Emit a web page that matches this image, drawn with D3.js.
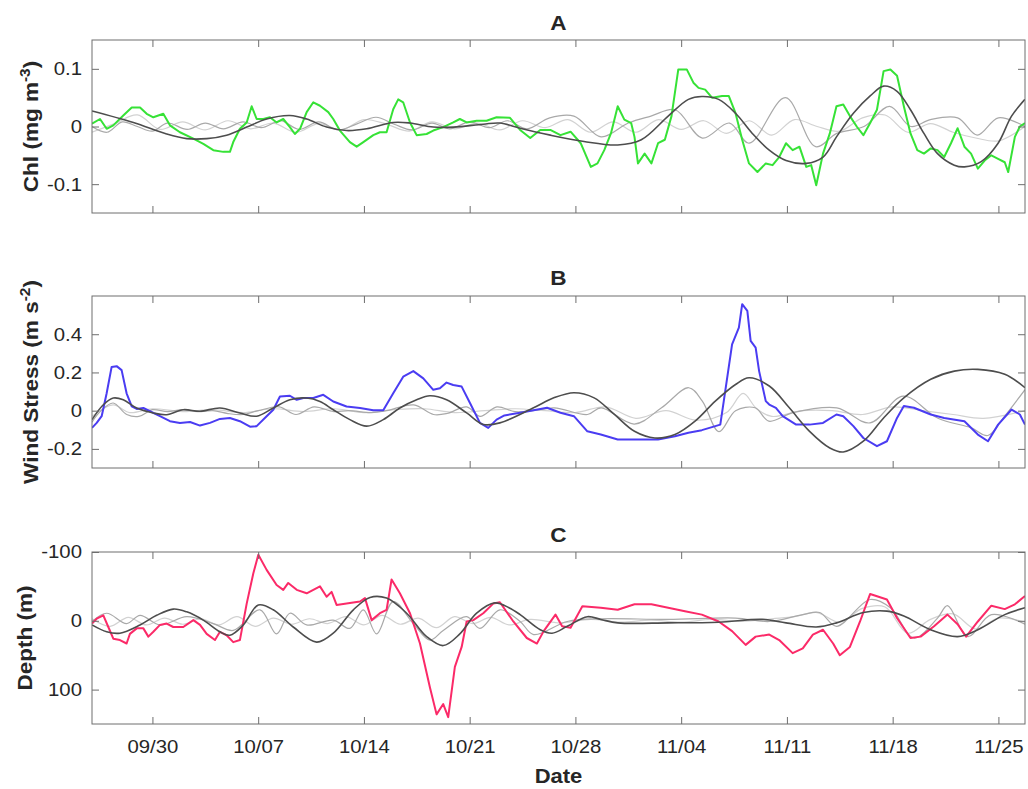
<!DOCTYPE html>
<html><head><meta charset="utf-8">
<script src="https://cdn.jsdelivr.net/npm/d3@7"></script>
<style>
body{margin:0;background:#fff;}
svg{display:block;}
text{font-family:"Liberation Sans",Arial,Helvetica,sans-serif;fill:#262626;}
</style>
</head><body>
<svg id="chart" width="1028" height="789"></svg>
<script>
// ---------- DATA (x = days since 09/26) ----------
const xDomain = [0, 61.76];
const dateTickDays = [4, 11, 18, 25, 32, 39, 46, 53, 60];
const dateTickLabels = ["09/30","10/07","10/14","10/21","10/28","11/04","11/11","11/18","11/25"];

const chlTicks = [-0.1, 0, 0.1];
const chlTickLabels = ["-0.1","0","0.1"];
const windTicks = [-0.2, 0, 0.2, 0.4];
const windTickLabels = ["-0.2","0","0.2","0.4"];
const depthTicks = [-100, 0, 100];
const depthTickLabels = ["-100","0","100"];

// Panel A: chlorophyll anomaly (observed, low-frequency, two band components)
const chlObs = [[0,0.005],[0.53,0.013],[0.97,-0.004],[1.41,0.002],[2.07,0.019],[2.63,0.033],[3.18,0.033],[3.62,0.022],[4.06,0.016],[4.72,0.022],[5.16,0.002],[5.82,-0.010],[6.71,-0.021],[7.37,-0.030],[8.03,-0.041],[8.69,-0.044],[9.13,-0.044],[9.35,-0.027],[9.79,-0.004],[10.24,0.007],[10.57,0.035],[10.9,0.013],[11.34,0.013],[11.78,0.016],[12.22,0.007],[12.66,0.013],[13.1,-0.001],[13.43,-0.013],[13.77,-0.004],[14.21,0.025],[14.65,0.042],[15.09,0.036],[15.64,0.025],[15.97,0.013],[16.41,-0.007],[17.07,-0.027],[17.52,-0.035],[17.96,-0.027],[18.62,-0.015],[19.06,-0.010],[19.5,-0.010],[19.94,0.030],[20.27,0.047],[20.6,0.042],[21.05,0.007],[21.49,-0.015],[22.15,-0.013],[22.59,-0.007],[23.25,-0.001],[23.91,0.007],[24.35,0.013],[24.8,0.007],[25.46,0.010],[26.12,0.010],[26.78,0.016],[27.67,0.015],[28.34,-0.006],[29.01,-0.020],[29.67,-0.006],[30.34,-0.006],[31.01,-0.015],[31.68,-0.009],[32.35,-0.029],[33.02,-0.070],[33.46,-0.064],[33.91,-0.041],[34.35,-0.012],[34.8,0.035],[35.24,0.012],[35.69,0.006],[35.91,-0.018],[36.14,-0.064],[36.58,-0.047],[37.03,-0.064],[37.47,-0.029],[37.92,-0.023],[38.36,0.018],[38.81,0.099],[39.37,0.099],[39.81,0.076],[40.15,0.067],[40.59,0.064],[41.04,0.050],[41.71,0.053],[42.15,0.053],[42.6,0.023],[43.04,-0.023],[43.49,-0.064],[44.05,-0.079],[44.6,-0.064],[45.05,-0.067],[45.49,-0.053],[45.94,-0.029],[46.38,-0.041],[46.83,-0.035],[47.28,-0.070],[47.61,-0.067],[47.94,-0.102],[48.39,-0.047],[48.84,-0.012],[49.28,0.035],[49.73,0.038],[50.17,0.018],[50.62,0.000],[51.06,-0.015],[51.51,0.006],[51.96,0.029],[52.4,0.096],[52.85,0.099],[53.29,0.088],[53.74,0.035],[54.18,-0.012],[54.63,-0.041],[55.07,-0.047],[55.52,-0.038],[55.97,-0.041],[56.41,-0.053],[56.86,-0.029],[57.3,-0.003],[57.75,-0.035],[58.19,-0.047],[58.64,-0.073],[59.09,-0.059],[59.53,-0.050],[59.98,-0.056],[60.42,-0.062],[60.65,-0.079],[61.09,-0.018],[61.42,0.000],[61.76,0.006]];
const chlLow = [[0,0.027],[2.74,0.007],[4.94,-0.013],[6.27,-0.021],[7.59,-0.021],[8.91,-0.015],[10.24,-0.001],[11.56,0.013],[13.1,0.019],[14.21,0.013],[15.53,-0.001],[16.85,-0.007],[18.18,-0.004],[19.94,0.007],[21.05,0.006],[22.59,-0.001],[23.91,-0.001],[25.9,0.004],[27.0,0.006],[28.34,-0.003],[30.34,-0.015],[32.57,-0.026],[34.8,-0.032],[36.36,-0.023],[38.14,0.018],[39.48,0.047],[40.37,0.052],[41.48,0.047],[42.6,0.023],[43.71,-0.012],[44.83,-0.041],[45.94,-0.059],[47.28,-0.064],[48.39,-0.053],[49.28,-0.018],[50.4,0.023],[51.51,0.053],[52.4,0.070],[53.29,0.061],[54.18,0.029],[55.07,-0.012],[55.97,-0.047],[57.08,-0.067],[57.75,-0.070],[58.86,-0.061],[59.98,-0.029],[60.87,0.018],[61.76,0.047]];
const chlMid1 = [[0,0.000],[1,-0.010],[2,0.008],[3,0.000],[4,-0.008],[5,0.006],[6.3,-0.005],[7.5,0.006],[8.7,-0.004],[10,0.008],[11.2,-0.002],[12.5,0.010],[13.7,-0.005],[15,0.008],[16.3,-0.006],[17.5,0.004],[18.8,0.016],[20,0.004],[21.2,-0.006],[22.5,0.006],[23.7,-0.004],[25,0.008],[26.3,-0.002],[27.5,0.010],[28.8,-0.004],[30.3,0.015],[31.9,0.018],[33.7,-0.018],[35.5,0.006],[37.0,0.018],[38.6,0.029],[40.4,-0.020],[42.2,0.006],[43.5,-0.029],[45.9,0.050],[47.9,-0.035],[49.3,-0.012],[51.1,0.000],[52.8,0.035],[54.2,0.000],[55.5,0.012],[57.3,0.015],[58.6,-0.015],[60.0,0.015],[61.76,0.000]];
const chlMid2 = [[0,-0.010],[1.5,0.005],[3,0.020],[4.5,-0.005],[6,0.008],[7.5,-0.006],[9,0.010],[10.5,-0.004],[12,0.006],[13.5,-0.010],[15,0.005],[16.5,-0.006],[18,0.012],[19.5,0.004],[21,-0.008],[22.5,0.008],[24,-0.004],[25.5,0.006],[27,-0.006],[28.5,0.010],[30,-0.002],[31.5,0.012],[33,-0.010],[34.5,0.008],[36,-0.010],[37.5,0.012],[39,-0.005],[40.5,0.010],[42,-0.012],[43.5,0.010],[45,-0.015],[46.5,0.012],[48,0.000],[49.5,-0.008],[51,0.015],[52.5,0.020],[54,-0.010],[55.5,0.005],[57,-0.010],[58.5,-0.020],[60,-0.025],[61.76,0.000]];

// Panel B: wind stress
const windObs = [[0,-0.090],[0.31,-0.064],[0.64,-0.029],[0.97,0.091],[1.3,0.229],[1.63,0.233],[1.96,0.212],[2.29,0.091],[2.63,0.022],[2.96,0.009],[3.4,0.014],[3.84,-0.003],[4.5,-0.029],[5.16,-0.055],[5.82,-0.064],[6.49,-0.059],[7.15,-0.078],[7.81,-0.064],[8.47,-0.043],[9.13,-0.038],[9.79,-0.055],[10.46,-0.084],[10.9,-0.081],[11.56,-0.029],[12.0,0.005],[12.44,0.074],[13.1,0.078],[13.55,0.057],[13.99,0.066],[14.65,0.066],[15.31,0.083],[15.97,0.048],[16.85,0.022],[17.74,0.014],[18.62,0.002],[19.28,0.002],[19.94,0.091],[20.6,0.178],[21.27,0.207],[21.93,0.169],[22.59,0.109],[23.03,0.117],[23.47,0.147],[23.91,0.134],[24.47,0.126],[25.02,0.040],[25.68,-0.064],[26.23,-0.090],[26.78,-0.047],[27.3,-0.025],[28.34,-0.011],[30.12,0.015],[31.01,-0.011],[31.9,-0.029],[32.79,-0.108],[33.68,-0.125],[34.8,-0.151],[35.91,-0.151],[37.47,-0.151],[38.59,-0.134],[39.48,-0.116],[40.37,-0.102],[41.26,-0.081],[41.59,-0.073],[41.82,0.050],[42.37,0.347],[42.82,0.435],[43.04,0.557],[43.38,0.522],[43.6,0.365],[43.93,0.330],[44.16,0.207],[44.6,0.050],[44.83,0.032],[45.27,0.015],[45.72,-0.029],[46.61,-0.073],[47.5,-0.073],[48.39,-0.064],[49.28,-0.020],[49.73,-0.029],[50.4,-0.081],[51.06,-0.143],[51.96,-0.186],[52.62,-0.160],[53.29,-0.038],[53.74,0.024],[54.41,0.015],[55.52,-0.020],[56.41,-0.038],[57.75,-0.055],[58.64,-0.125],[59.31,-0.160],[59.98,-0.073],[60.87,0.006],[61.42,-0.020],[61.76,-0.073]];
const windLow = [[0,-0.047],[0.75,0.031],[1.41,0.066],[2.07,0.057],[2.96,0.014],[4.06,-0.012],[4.94,-0.021],[6.04,0.005],[7.15,-0.003],[8.47,0.014],[9.79,-0.012],[10.9,-0.029],[12.0,0.014],[13.1,0.057],[14.21,0.066],[15.09,0.048],[15.97,0.005],[17.07,-0.047],[18.18,-0.081],[19.28,-0.047],[20.38,0.014],[21.49,0.057],[22.37,0.078],[23.47,0.057],[24.8,-0.012],[25.9,-0.072],[27.0,-0.064],[29.23,0.015],[30.57,0.067],[31.9,0.094],[33.24,0.067],[34.58,-0.020],[35.91,-0.108],[37.25,-0.143],[38.59,-0.125],[39.92,-0.055],[41.26,0.050],[42.6,0.137],[43.49,0.172],[44.83,0.129],[46.16,0.015],[47.5,-0.108],[48.84,-0.195],[49.73,-0.216],[51.06,-0.160],[52.4,-0.038],[53.74,0.067],[55.52,0.164],[57.08,0.207],[58.64,0.216],[60.42,0.190],[61.76,0.120]];
const windMid1 = [[0,-0.060],[0.6,0.000],[1.4,0.040],[2.3,-0.020],[3.1,-0.030],[4.0,0.005],[5.0,-0.005],[6.0,0.005],[7.0,-0.005],[8.0,0.000],[9.0,-0.015],[10.0,-0.020],[11.0,0.000],[12.4,0.020],[13.5,-0.020],[14.7,0.020],[16.0,-0.005],[17.0,0.000],[18.5,-0.010],[19.5,0.000],[21.3,0.030],[22.6,-0.020],[23.5,-0.015],[24.8,0.020],[25.7,-0.030],[26.8,0.020],[28.0,-0.005],[29.2,0.000],[30.6,0.015],[32.8,-0.020],[33.7,0.015],[35.9,-0.070],[37.7,0.015],[39.5,0.120],[40.4,0.050],[41.5,-0.110],[42.6,0.000],[43.9,0.015],[44.8,-0.055],[46.4,-0.010],[49.3,0.015],[51.5,-0.064],[53.7,0.076],[56.0,-0.040],[58.2,-0.090],[59.3,-0.130],[60.4,-0.030],[61.76,0.110]];
const windMid2 = [[0,-0.030],[1.4,0.030],[2.5,-0.010],[4,0.010],[6,-0.005],[8,0.005],[10,-0.010],[12,0.010],[14,-0.005],[16,0.010],[18,-0.010],[20,0.005],[22,0.010],[24,-0.010],[26,0.000],[28,0.010],[30,0.000],[32,-0.010],[34,0.020],[36,-0.040],[38,0.000],[40,-0.050],[42,-0.010],[43.1,0.090],[44,0.010],[45,-0.030],[47,0.000],[49,0.000],[51,-0.020],[53,0.020],[55,0.000],[57,-0.020],[59,-0.040],[61.76,0.000]];

// Panel C: depth (positive down)
const depthObs = [[0,4],[0.31,-3],[0.75,-8],[1.08,9],[1.41,26],[1.85,28],[2.29,33],[2.51,19],[2.96,11],[3.4,11],[3.73,23],[4.06,16],[4.5,6],[4.94,4],[5.38,9],[6.04,9],[6.71,-1],[7.15,6],[7.59,19],[8.14,28],[8.47,16],[8.91,21],[9.35,31],[9.79,28],[10.24,-25],[10.68,-69],[11.01,-96],[11.56,-74],[12.22,-52],[12.66,-45],[12.99,-55],[13.55,-45],[14.21,-40],[14.65,-45],[15.09,-50],[15.53,-35],[15.86,-42],[16.19,-23],[16.85,-25],[17.74,-28],[18.07,-33],[18.51,-1],[19.06,-11],[19.5,-16],[19.83,-60],[20.38,-40],[21.05,-11],[21.71,33],[22.37,97],[22.81,136],[23.25,121],[23.58,140],[24.02,67],[24.47,38],[24.8,1],[25.24,-1],[25.9,-11],[26.56,-25],[27.0,-27],[27.89,1],[28.78,25],[29.45,33],[29.9,15],[30.68,-9],[31.12,8],[31.68,10],[32.46,-21],[33.68,-19],[34.8,-16],[35.91,-24],[37.03,-24],[38.14,-19],[39.25,-14],[40.37,-9],[41.48,1],[42.37,15],[43.27,35],[43.93,23],[44.83,20],[45.49,28],[46.38,47],[47.05,40],[47.72,20],[48.39,13],[49.06,33],[49.5,50],[50.17,38],[50.84,1],[51.51,-39],[52.62,-31],[53.29,-4],[54.18,25],[54.85,23],[55.74,8],[56.63,-9],[57.3,5],[57.86,23],[58.64,1],[59.53,-22],[60.42,-17],[61.09,-24],[61.76,-36]];
const depthLow = [[0,6],[0.97,16],[1.85,18],[3.18,6],[4.28,-8],[5.38,-17],[6.27,-13],[7.37,-1],[8.47,16],[9.13,21],[10.02,6],[11.01,-23],[12.0,-16],[13.32,9],[14.87,31],[15.97,18],[17.3,-16],[18.4,-34],[19.5,-33],[20.83,-11],[22.15,23],[23.25,36],[24.35,19],[25.46,-11],[26.67,-26],[27.6,-19],[28.34,-9],[29.67,13],[30.45,18],[31.46,8],[32.79,-6],[33.68,-2],[34.8,3],[38.14,3],[41.48,2],[44.38,-2],[45.94,3],[47.94,9],[49.28,3],[51.06,-12],[52.62,-14],[53.74,-7],[55.52,13],[57.3,23],[58.64,13],[60.42,-9],[61.76,-19]];
const depthMid1 = [[0,1],[0.97,-11],[2.29,4],[3.18,-8],[4.5,6],[6.27,-6],[8.03,4],[9.35,14],[11.12,-16],[12.22,19],[13.1,-11],[14.21,6],[15.97,-1],[17.07,11],[17.96,-16],[18.84,19],[19.94,-28],[21.27,4],[22.37,28],[23.25,14],[24.8,-6],[25.68,11],[27.0,-16],[28.34,1],[29.23,20],[31.46,1],[33.68,-3],[38.14,-2],[42.6,-4],[44.83,1],[47.05,-9],[48.17,-12],[49.28,8],[51.51,-31],[52.85,-19],[54.41,25],[55.97,-4],[56.63,-22],[57.97,23],[59.53,-9],[61.76,5]];
const depthMid2 = [[0,-3],[1.2,8],[2.4,-5],[3.6,6],[4.8,-4],[6,5],[7.2,-3],[8.4,6],[9.6,-6],[10.8,8],[12,-4],[13.2,5],[14.4,-3],[15.6,4],[16.8,-6],[18,6],[19.2,-8],[20.4,5],[21.6,-4],[22.8,10],[24,-6],[25.2,4],[26.4,-5],[27.6,6],[29,-2],[31,3],[33,-2],[35,2],[37,-1],[39,2],[41,-2],[43,1],[45,-3],[46.5,-6],[48,-12],[49.5,2],[51,-18],[52.5,-20],[54,18],[55.5,-2],[57,-10],[58.5,12],[60,-4],[61.76,2]];

// ---------- LAYOUT ----------
const plotLeft = 92, plotRight = 1025;
const SX = 1.1; // horizontal stretch of the original typography
const axisColor = "#6e6e6e";

const panels = [
  {title:"A", titleY:30, top:40, bottom:213, domain:[-0.15,0.15], reversed:false,
   ticks:chlTicks, tickLabels:chlTickLabels, label:["Chl (mg m","-3",")"], labelX:37.5,
   color:"#36e236", obs:chlObs, low:chlLow, mid1:chlMid1, mid2:chlMid2},
  {title:"B", titleY:285, top:296, bottom:468, domain:[-0.3,0.6], reversed:false,
   ticks:windTicks, tickLabels:windTickLabels, label:["Wind Stress (m s","-2",")"], labelX:37.5,
   color:"#4a3cf2", obs:windObs, low:windLow, mid1:windMid1, mid2:windMid2},
  {title:"C", titleY:542, top:552, bottom:724, domain:[-100,150], reversed:true,
   ticks:depthTicks, tickLabels:depthTickLabels, label:["Depth (m)",null,null], labelX:32,
   color:"#fb2a68", obs:depthObs, low:depthLow, mid1:depthMid1, mid2:depthMid2}
];

const svg = d3.select("#chart");
svg.append("rect").attr("width",1028).attr("height",789).attr("fill","#fff");
const x = d3.scaleLinear().domain(xDomain).range([plotLeft, plotRight]);

panels.forEach((p, i) => {
  const y = d3.scaleLinear().domain(p.domain)
    .range(p.reversed ? [p.top, p.bottom] : [p.bottom, p.top]);
  const clipId = "clip" + i;
  svg.append("clipPath").attr("id", clipId).append("rect")
    .attr("x", plotLeft).attr("y", p.top)
    .attr("width", plotRight - plotLeft).attr("height", p.bottom - p.top);

  const g = svg.append("g").attr("clip-path", `url(#${clipId})`);
  const lineSmooth = d3.line().x(d => x(d[0])).y(d => y(d[1])).curve(d3.curveCatmullRom.alpha(0.5));
  const lineRaw = d3.line().x(d => x(d[0])).y(d => y(d[1]));

  g.append("path").datum(p.mid2).attr("d", lineSmooth)
    .attr("fill","none").attr("stroke","#d2d2d2").attr("stroke-width",1.2);
  g.append("path").datum(p.mid1).attr("d", lineSmooth)
    .attr("fill","none").attr("stroke","#a9a9a9").attr("stroke-width",1.2);
  g.append("path").datum(p.obs).attr("d", lineRaw)
    .attr("fill","none").attr("stroke",p.color).attr("stroke-width",2)
    .attr("stroke-linejoin","round");
  g.append("path").datum(p.low).attr("d", lineSmooth)
    .attr("fill","none").attr("stroke","#4d4d4d").attr("stroke-width",1.6);

  // axes (inward ticks, MATLAB box style)
  const tk = 7;
  const styleAxis = sel => {
    sel.select(".domain").remove();
    sel.selectAll(".tick line").attr("stroke", axisColor);
  };
  const left = svg.append("g").attr("transform", `translate(${plotLeft},0)`)
    .call(d3.axisLeft(y).tickValues(p.ticks).tickSize(-tk).tickPadding(9.1)
      .tickFormat((d, k) => p.tickLabels[k]));
  styleAxis(left);
  left.selectAll(".tick text").attr("fill","#262626")
    .style("font-family",'"Liberation Sans",Arial,sans-serif').style("font-size","18.5px")
    .attr("transform", `scale(${SX},1)`);

  const right = svg.append("g").attr("transform", `translate(${plotRight},0)`)
    .call(d3.axisRight(y).tickValues(p.ticks).tickSize(-tk).tickFormat(""));
  styleAxis(right);

  const top = svg.append("g").attr("transform", `translate(0,${p.top})`)
    .call(d3.axisTop(x).tickValues(dateTickDays).tickSize(-tk).tickFormat(""));
  styleAxis(top);

  const isLast = i === panels.length - 1;
  const bottom = svg.append("g").attr("transform", `translate(0,${p.bottom})`)
    .call(d3.axisBottom(x).tickValues(dateTickDays).tickSize(-tk).tickPadding(16)
      .tickFormat((d, k) => isLast ? dateTickLabels[k] : ""));
  styleAxis(bottom);
  bottom.selectAll(".tick text").attr("fill","#262626")
    .style("font-family",'"Liberation Sans",Arial,sans-serif').style("font-size","18.5px")
    .attr("transform", `scale(${SX},1)`);

  // box
  svg.append("rect").attr("x", plotLeft).attr("y", p.top)
    .attr("width", plotRight - plotLeft).attr("height", p.bottom - p.top)
    .attr("fill","none").attr("stroke", axisColor).attr("stroke-width",1);

  // title
  svg.append("text")
    .attr("transform", `translate(${(plotLeft+plotRight)/2},${p.titleY}) scale(${SX},1)`)
    .attr("text-anchor","middle").style("font-weight","bold").style("font-size","20.5px")
    .text(p.title);

  // y label
  const yl = svg.append("text")
    .attr("transform", `translate(${p.labelX},${(p.top+p.bottom)/2}) rotate(-90) scale(${SX},1)`)
    .attr("text-anchor","middle").style("font-weight","bold").style("font-size","20.5px");
  yl.append("tspan").text(p.label[0]);
  if (p.label[1]) {
    yl.append("tspan").attr("dy", -8).style("font-size","14px").text(p.label[1]);
    yl.append("tspan").attr("dy", 8).text(p.label[2]);
  }
});

// x label
svg.append("text")
  .attr("transform", `translate(${(plotLeft+plotRight)/2},783) scale(${SX},1)`)
  .attr("text-anchor","middle").style("font-weight","bold").style("font-size","20px")
  .text("Date");
</script>
</body></html>
